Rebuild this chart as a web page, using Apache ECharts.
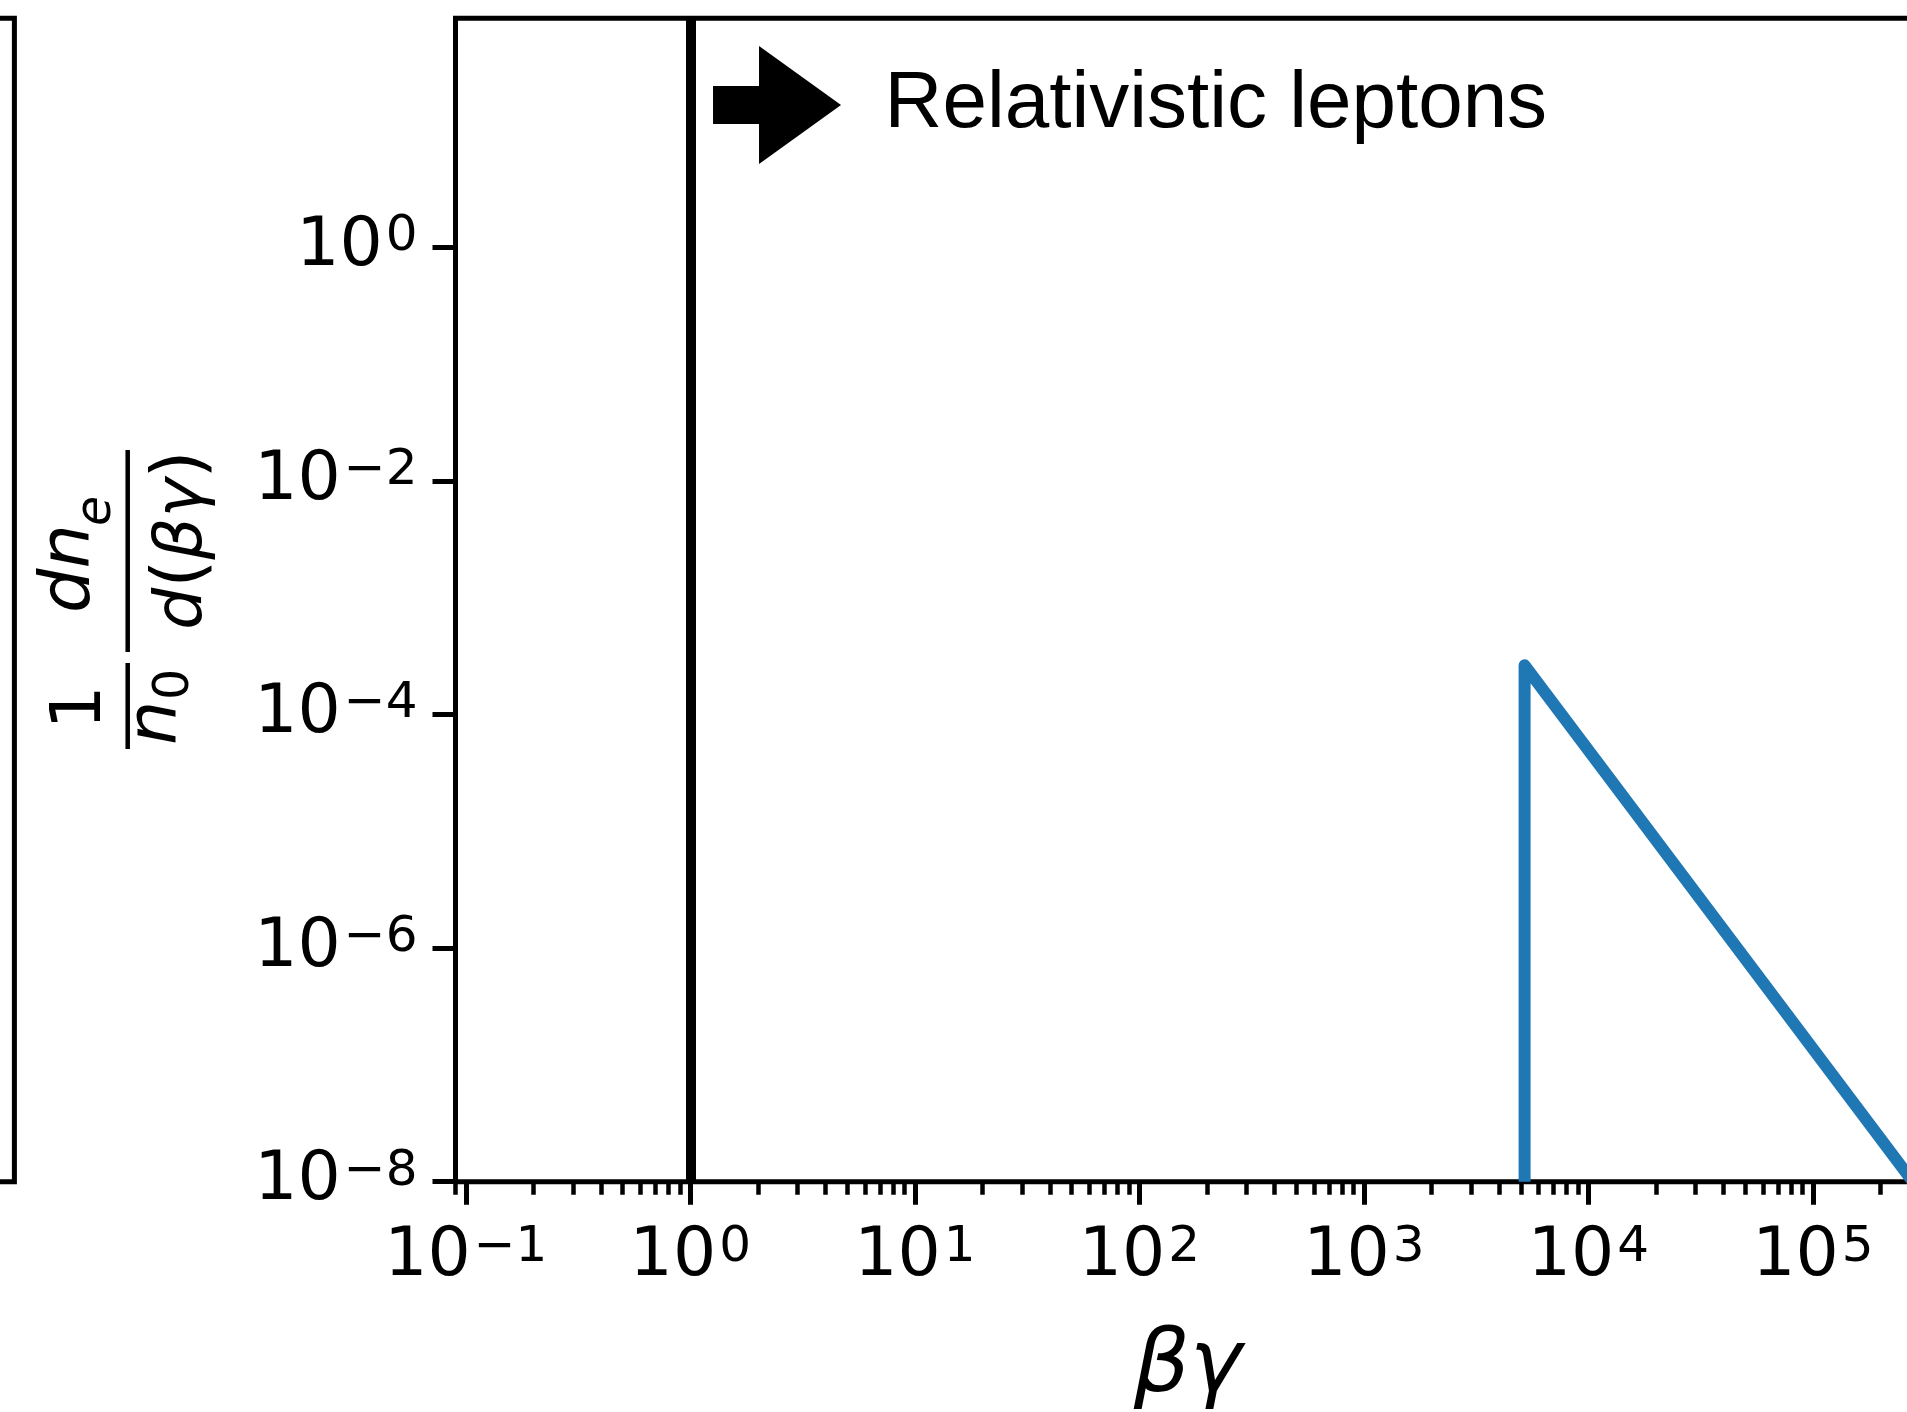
<!DOCTYPE html>
<html><head><meta charset="utf-8">
<script src="https://cdn.jsdelivr.net/npm/echarts@6/dist/echarts.min.js"></script>
<style>html,body{margin:0;padding:0;background:#fff}#c{width:1907px;height:1412px}</style>
</head><body><div id="c"></div>
<script>
// ---- data ----
const lineX = [5200, 5200, 300000];          // βγ
const lineY = [1e-8, 2.64e-4, 8.3e-9];       // (1/n0) dn_e/d(βγ)
const boundaryX = [1];                        // vertical black line at βγ = 1
const xMajorTicks = [0.1, 1, 10, 100, 1000, 10000, 100000];
const xMinorMantissas = [2, 3, 4, 5, 6, 7, 8, 9];
const xMinorDecades = [0.01, 0.1, 1, 10, 100, 1000, 10000, 100000];
const yMajorTicks = [1e-8, 1e-6, 1e-4, 1e-2, 1];
const xRange = [0.09, 300000];
const yRange = [1e-8, 91.4];
const annotationText = 'Relativistic leptons';
const arrowAt = [2.434, 16.57];
const textAt = [7.30, 16.57];

// ---- chart ----
const FONT = "'DejaVu Sans', sans-serif";
const xMinorTicks = [];
xMinorDecades.forEach(d => xMinorMantissas.forEach(m => {
  const v = m * d;
  if (v >= xRange[0] && v <= xRange[1]) xMinorTicks.push(v);
}));
function fmt(v) {
  const e = Math.round(Math.log10(v));
  return '{b|10}{s|' + (e < 0 ? '\u2212' + (-e) : String(e)) + '}';
}
const rich = {
  b: { fontSize: 68, lineHeight: 70, fontFamily: FONT, color: '#000' },
  s: { fontSize: 50, lineHeight: 42, verticalAlign: 'top', fontFamily: FONT, color: '#000', padding: [0, 0, 0, 3] }
};
const G = { left: 455.5, top: 18.3, width: 1464.5, height: 1163.4 };

const chart = echarts.init(document.getElementById('c'), null, { renderer: 'canvas' });
chart.setOption({
  animation: false,
  backgroundColor: '#fff',
  grid: [
    { left: G.left, top: G.top, width: G.width, height: G.height, show: true,
      borderColor: '#000', borderWidth: 5, backgroundColor: 'transparent',
      containLabel: false, outerBoundsMode: 'none' },
    { left: -1000, top: G.top, width: 1014.4, height: G.height, show: true,
      borderColor: '#000', borderWidth: 5, backgroundColor: 'transparent',
      containLabel: false, outerBoundsMode: 'none' }
  ],
  xAxis: [
    { type: 'log', gridIndex: 0, min: xRange[0], max: xRange[1], position: 'bottom',
      axisLine: { show: false }, splitLine: { show: false },
      axisTick: { show: true, length: 23, lineStyle: { color: '#000', width: 5 }, customValues: xMajorTicks },
      axisLabel: { show: true, margin: 41, formatter: fmt, rich: rich, customValues: xMajorTicks },
      name: 'βγ', nameLocation: 'middle', nameGap: 142,
      nameTextStyle: { fontFamily: FONT, fontSize: 88, fontStyle: 'italic', color: '#000' } },
    { type: 'log', gridIndex: 0, min: xRange[0], max: xRange[1], position: 'bottom', offset: 0,
      axisLine: { show: false }, splitLine: { show: false },
      axisTick: { show: true, length: 13, lineStyle: { color: '#000', width: 4.5 }, customValues: xMinorTicks },
      axisLabel: { show: false } },
    { type: 'value', gridIndex: 1, show: false, min: 0, max: 1 }
  ],
  yAxis: [
    { type: 'log', gridIndex: 0, min: yRange[0], max: yRange[1],
      axisLine: { show: false }, splitLine: { show: false },
      axisTick: { show: true, length: 23, lineStyle: { color: '#000', width: 5 }, customValues: yMajorTicks },
      axisLabel: { show: true, margin: 38, formatter: fmt, rich: rich, customValues: yMajorTicks } },
    { type: 'value', gridIndex: 1, show: false, min: 0, max: 1 }
  ],
  series: [{
    type: 'line', xAxisIndex: 0, yAxisIndex: 0,
    data: lineX.map((x, i) => [x, lineY[i]]),
    symbol: 'none', showSymbol: false, clip: true, silent: true,
    lineStyle: { color: '#1f77b4', width: 12, join: 'round', cap: 'butt' },
    markLine: {
      silent: true, symbol: 'none', label: { show: false },
      lineStyle: { color: '#000', width: 10, type: 'solid' },
      data: boundaryX.map(x => ({ xAxis: x }))
    },
    markPoint: {
      silent: true,
      data: [
        { coord: arrowAt, symbol: 'path://M0,40L46,40L46,0L128,59L46,118L46,78L0,78Z',
          symbolSize: [128, 118], itemStyle: { color: '#000' }, label: { show: false } },
        { coord: textAt, symbol: 'circle', symbolSize: 1, itemStyle: { color: 'rgba(0,0,0,0)' },
          label: { show: true, position: 'right', distance: 0, formatter: annotationText,
                   color: '#000', fontSize: 80,
                   fontFamily: "'Comic Sans MS', 'Liberation Sans', sans-serif" } }
      ]
    }
  }],
  graphic: [{
    type: 'group', x: 127.7, y: 600, rotation: Math.PI / 2, silent: true,
    children: [
      { type: 'text', x: -107.5, y: -46, style: { text: '1', font: '70px "DejaVu Sans"', fill: '#000', align: 'center', verticalAlign: 'middle' } },
      { type: 'rect', shape: { x: -149, y: -2.25, width: 86, height: 4.5 }, style: { fill: '#000' } },
      { type: 'text', x: -145, y: 30, style: { text: 'n', font: 'italic 70px "DejaVu Sans"', fill: '#000', align: 'left', verticalAlign: 'middle' } },
      { type: 'text', x: -100, y: 48, style: { text: '0', font: '49px "DejaVu Sans"', fill: '#000', align: 'left', verticalAlign: 'middle' } },
      { type: 'text', x: -13, y: -57, style: { text: 'dn', font: 'italic 70px "DejaVu Sans"', fill: '#000', align: 'left', verticalAlign: 'middle' } },
      { type: 'text', x: 74, y: -30, style: { text: 'e', font: 'italic 49px "DejaVu Sans"', fill: '#000', align: 'left', verticalAlign: 'middle' } },
      { type: 'rect', shape: { x: -52, y: -2.25, width: 202, height: 4.5 }, style: { fill: '#000' } },
      { type: 'text', x: 60, y: 56, style: {
          text: '{i|d}{r|(}{i|βγ}{r|)}', align: 'center', verticalAlign: 'middle', fill: '#000',
          rich: {
            i: { fontSize: 66, fontFamily: 'DejaVu Sans', fontStyle: 'italic', fill: '#000' },
            r: { fontSize: 72, fontFamily: 'DejaVu Sans', fill: '#000' }
          } } }
    ]
  }]
});
</script>
</body></html>
